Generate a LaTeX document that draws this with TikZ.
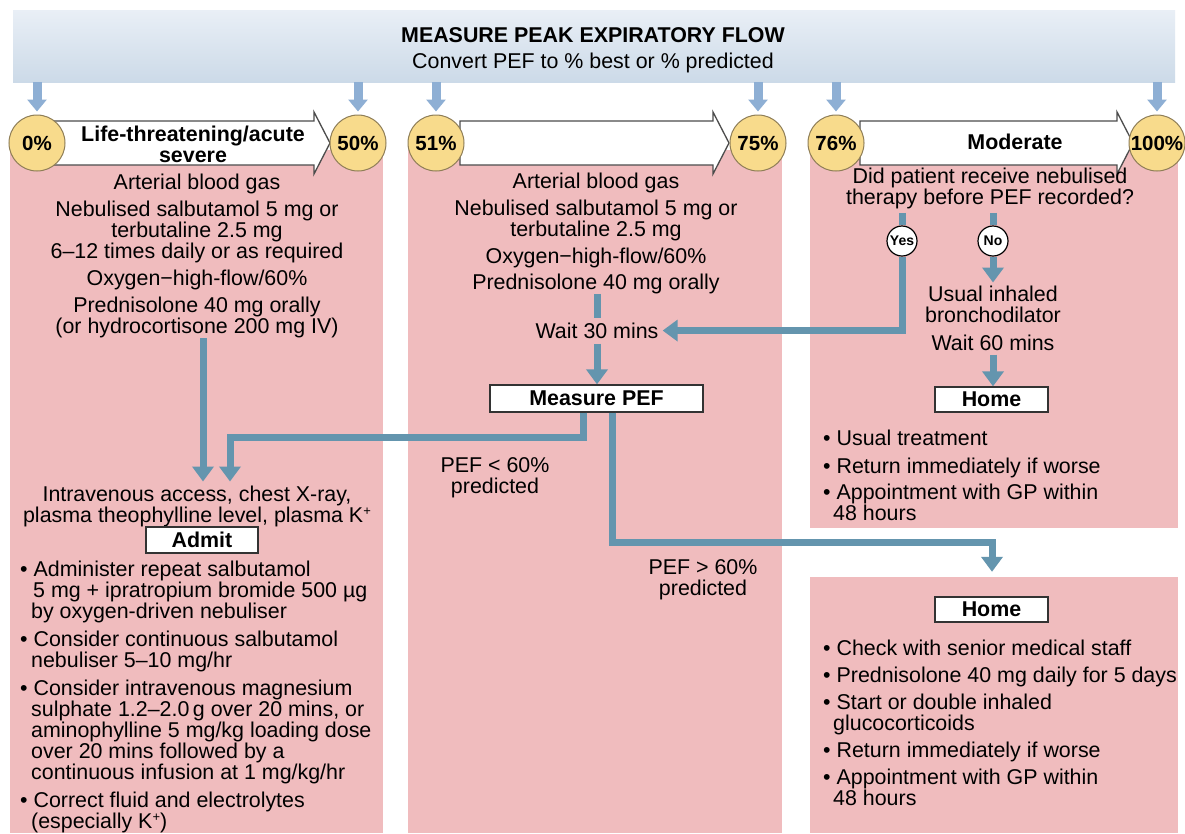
\documentclass[tikz,border=0pt]{standalone}
\usepackage{fontspec}
\setmainfont{Liberation Sans}
\usetikzlibrary{arrows.meta,calc}
\definecolor{pinkbg}{HTML}{F0BCBE}
\definecolor{connblue}{HTML}{6495AE}
\definecolor{bannerA}{HTML}{E9EFF6}
\definecolor{bannerB}{HTML}{CCDAE8}
\definecolor{barblue}{HTML}{8EAFD4}
\definecolor{circfill}{HTML}{F8DB8C}
\definecolor{circline}{HTML}{8F7E57}
\newcommand{\supplus}{\raisebox{0.3em}{\fontsize{13}{13}\selectfont +}}
\begin{document}
\begin{tikzpicture}[x=1pt,y=-1pt,
  every node/.style={font=\fontsize{21.4}{21}\selectfont, inner sep=0pt},
  panel/.style={rectangle, fill=pinkbg, draw=none},
  pct/.style={circle, fill=circfill, draw=circline, line width=1pt, minimum size=56pt, font=\fontsize{20.5}{20}\selectfont\bfseries},
  flowarrow/.style={fill=white, draw=black!70, line width=1.3pt, line join=miter},
  link/.style={draw=connblue, line width=7pt, -{Triangle[width=21pt,length=15pt]}},
  linkplain/.style={draw=connblue, line width=7pt},
  bararrow/.style={draw=barblue, line width=9pt, -{Triangle[width=19pt,length=12pt]}},
  txt/.style={anchor=north, align=center},
  lst/.style={anchor=north west, align=left},
  labelbox/.style={rectangle, fill=white, draw=black!80, line width=1.3pt, font=\fontsize{21.4}{21}\selectfont\bfseries},
  yn/.style={circle, fill=white, draw=black, line width=1.2pt, minimum size=30pt, font=\fontsize{14}{14}\selectfont\bfseries}
]
\useasboundingbox (0,0) rectangle (1185,833);
\fill[white] (0,0) rectangle (1185,833);

% banner
\node[rectangle, minimum width=1162pt, minimum height=72pt, top color=bannerA, bottom color=bannerB] (banner) at (594,46) {};
\node[txt, font=\fontsize{21.4}{21}\selectfont\bfseries] (bt1) at (593,27.5) {MEASURE PEAK EXPIRATORY FLOW};
\node[txt] (bt2) at (593,53) {Convert PEF to \% best or \% predicted};

% panels
\node[panel, minimum width=373pt, minimum height=683pt] (p1) at (196.5,491.5) {};
\node[panel, minimum width=374pt, minimum height=683pt] (p2) at (595,491.5) {};
\node[panel, minimum width=368pt, minimum height=378pt] (p3) at (994,339) {};
\node[panel, minimum width=368pt, minimum height=256pt] (p4) at (994,705) {};

% block arrows
\draw[flowarrow] (50,121) -- (314,121) -- (314,112) -- (330,143) -- (314,174) -- (314,165) -- (50,165) -- cycle;
\draw[flowarrow] (460,121) -- (713,121) -- (713,112) -- (729,143) -- (713,174) -- (713,165) -- (460,165) -- cycle;
\draw[flowarrow] (860,121) -- (1117,121) -- (1117,112) -- (1133,143) -- (1117,174) -- (1117,165) -- (860,165) -- cycle;

% percentage circles
\node[pct] (c0) at (37,143) {0\%};
\node[pct] (c50) at (358,143) {50\%};
\node[pct] (c51) at (436,143) {51\%};
\node[pct] (c75) at (758,143) {75\%};
\node[pct] (c76) at (836,143) {76\%};
\node[pct] (c100) at (1157,143) {100\%};

\foreach \c in {c0,c50,c51,c75,c76,c100}
  \draw[bararrow, shorten >=3pt] (banner.south -| \c) -- (\c.north);

\node[txt, font=\fontsize{21.4}{21}\selectfont\bfseries] (lt) at (193,125.5) {Life-threatening/acute\\severe};
\node[txt, font=\fontsize{21.4}{21}\selectfont\bfseries] (mod) at (1015,133.5) {Moderate};

% panel 1
\node[txt] (p1a) at (197,173.5) {Arterial blood gas\\[6pt]
Nebulised salbutamol 5 mg or\\terbutaline 2.5 mg\\6–12 times daily or as required\\[6pt]
Oxygen−high-flow/60\%\\[6pt]
Prednisolone 40 mg orally\\(or hydrocortisone 200 mg IV)};
\coordinate (p1out) at (203,338);
\node[txt] (iv) at (197,485.5) {Intravenous access, chest X-ray,\\plasma theophylline level, plasma K\supplus};
\node[labelbox, minimum width=112pt, minimum height=26pt] (admit) at (202,540) {Admit};
\node[lst] (b1) at (20,560.5) {• Administer repeat salbutamol\\
\hspace*{13pt}5 mg + ipratropium bromide 500 µg\\
\hspace*{11pt}by oxygen-driven nebuliser\\[7pt]
• Consider continuous salbutamol\\
\hspace*{11pt}nebuliser 5–10 mg/hr\\[7pt]
• Consider intravenous magnesium\\
\hspace*{11pt}sulphate 1.2–2.0\,g over 20 mins, or\\
\hspace*{11pt}aminophylline 5 mg/kg loading dose\\
\hspace*{11pt}over 20 mins followed by a\\
\hspace*{11pt}continuous infusion at 1 mg/kg/hr\\[7pt]
• Correct fluid and electrolytes\\
\hspace*{11pt}(especially K\supplus)};

% panel 2
\node[txt] (p2a) at (596,172.5) {Arterial blood gas\\[6pt]
Nebulised salbutamol 5 mg or\\terbutaline 2.5 mg\\[6pt]
Oxygen−high-flow/60\%\\[5pt]
Prednisolone 40 mg orally};
\node[txt] (wait30) at (597,322.5) {Wait 30 mins};
\node[labelbox, minimum width=213pt, minimum height=27pt] (mpef) at (596.5,398.5) {Measure PEF};
\node[txt] (lt60) at (495,457.5) {PEF < 60\%\\predicted};
\node[txt] (gt60) at (703,559.5) {PEF > 60\%\\predicted};

% panel 3
\node[txt] (q) at (990,167.5) {Did patient receive nebulised\\therapy before PEF recorded?};
\node[yn] (yes) at (902,241) {Yes};
\node[yn] (no) at (993,241) {No};
\node[txt] (usual) at (993,285.5) {Usual inhaled\\bronchodilator\\[7pt]Wait 60 mins};
\node[labelbox, minimum width=113pt, minimum height=25pt] (home1) at (991.5,399.5) {Home};
\node[lst] (b3) at (823,429.5) {• Usual treatment\\[7pt]
• Return immediately if worse\\[5pt]
• Appointment with GP within\\
\hspace*{10pt}48 hours};

% panel 4
\node[labelbox, minimum width=113pt, minimum height=25pt] (home2) at (991.5,609.5) {Home};
\node[lst] (b4) at (823,639.5) {• Check with senior medical staff\\[6pt]
• Prednisolone 40 mg daily for 5 days\\[6pt]
• Start or double inhaled\\
\hspace*{10pt}glucocorticoids\\[6pt]
• Return immediately if worse\\[6pt]
• Appointment with GP within\\
\hspace*{10pt}48 hours};

% connectors
\draw[link, shorten >=4pt] (p1out) -- (p1out |- iv.north);
\coordinate (ltA) at (583,437);
\coordinate (ltB) at (230,437);
\draw[link, shorten >=4pt] (mpef.south -| ltA) -- (ltA) -- (ltB) -- (ltB |- iv.north);
\coordinate (gtA) at (612,542);
\coordinate (gtB) at (992,542);
\draw[link, shorten >=5pt] (mpef.south -| gtA) -- (gtA) -- (gtB) -- (gtB |- p4.north);
\draw[linkplain, shorten >=5pt] (p2a.south -| wait30) -- (wait30.north);
\draw[link, shorten <=5pt] (wait30.south) -- (wait30.south |- mpef.north);
\draw[linkplain, shorten <=4pt] (q.south -| yes) -- (yes.north);
\draw[link] (yes.south) |- ([xshift=4pt]wait30.east);
\draw[linkplain, shorten <=4pt] (q.south -| no) -- (no.north);
\draw[link, shorten >=3pt] (no.south) -- (usual.north);
\draw[link, shorten <=4pt] (usual.south) -- (usual.south |- home1.north);
\end{tikzpicture}
\end{document}
